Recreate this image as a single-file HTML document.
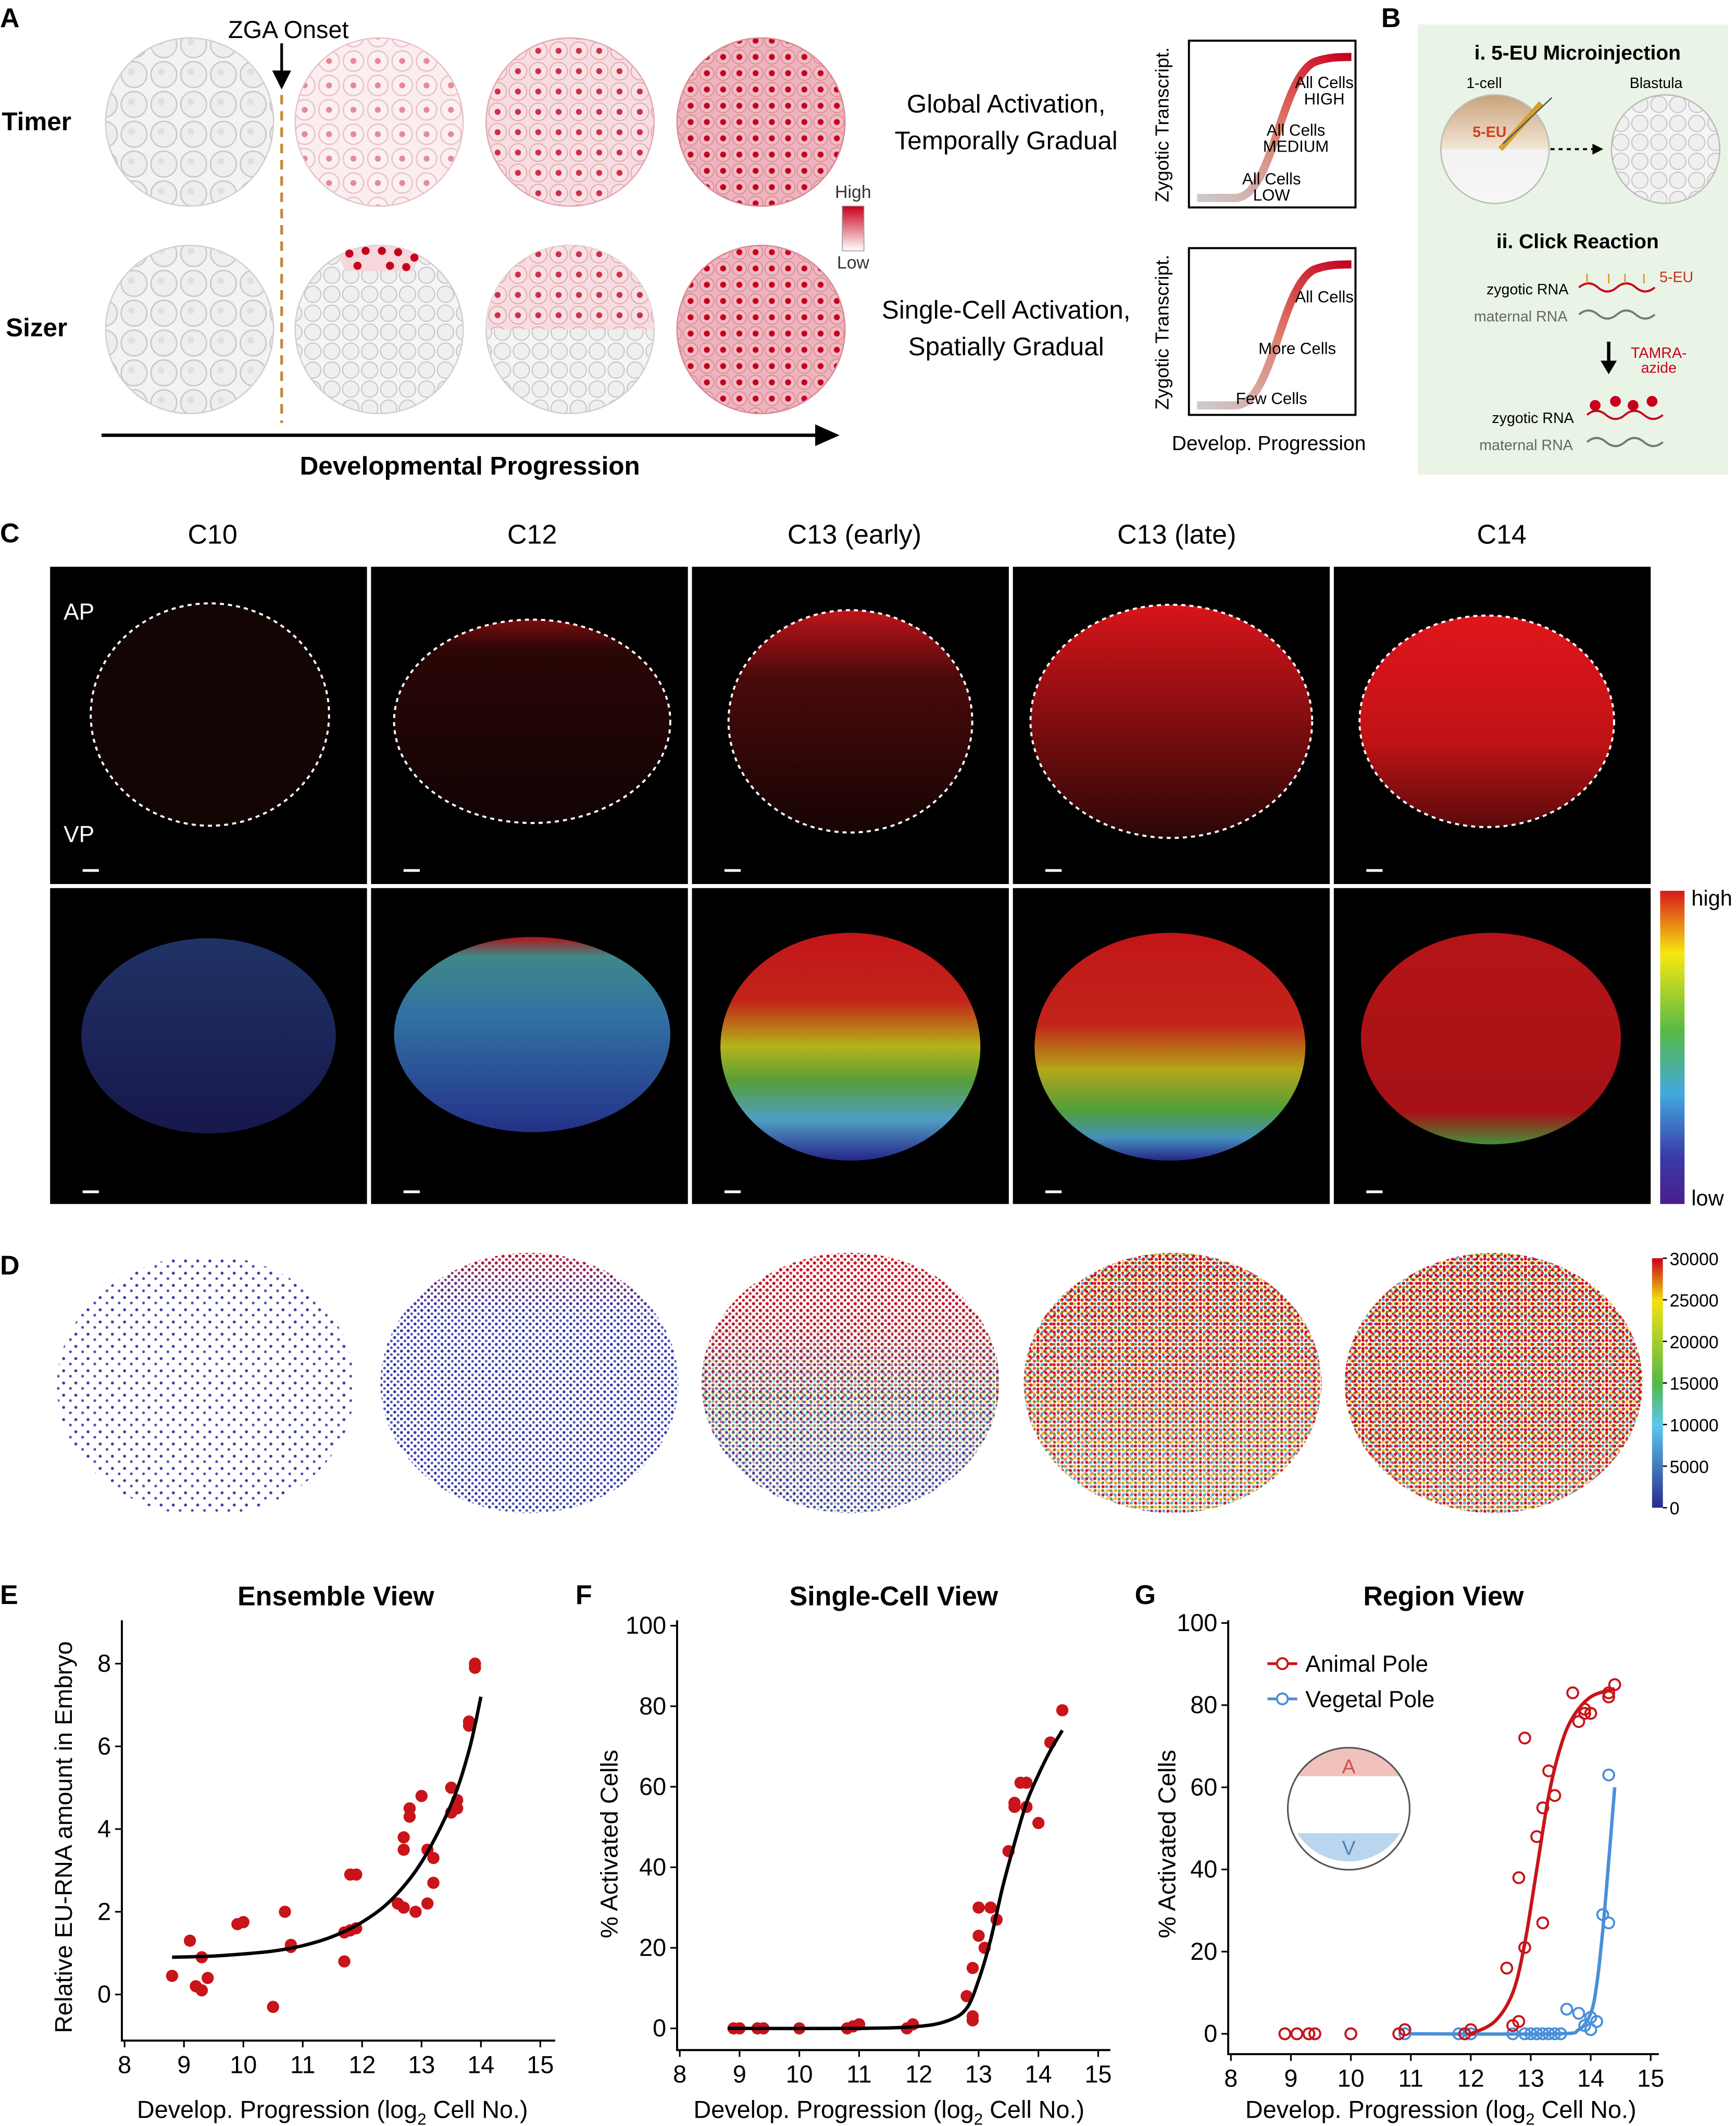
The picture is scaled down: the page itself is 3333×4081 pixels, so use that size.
<!DOCTYPE html>
<html><head><meta charset="utf-8">
<style>
html,body{margin:0;padding:0;background:#fff}
svg{display:block}
text{font-family:"Liberation Sans",sans-serif}
</style></head>
<body>
<svg id="fig" width="3333" height="4081" viewBox="0 0 1282 1568" preserveAspectRatio="none" xmlns="http://www.w3.org/2000/svg">
<defs>
  <pattern id="cellsGray" width="22" height="22" patternUnits="userSpaceOnUse">
    <rect width="22" height="22" fill="#f3f3f3"/>
    <circle cx="11" cy="11" r="9.5" fill="#eeeeee" stroke="#c8c8c8" stroke-width="1"/>
    <circle cx="9" cy="9" r="2.5" fill="#e0e0e0"/>
  </pattern>
  <pattern id="cellsPinkLight" width="18" height="18" patternUnits="userSpaceOnUse">
    <rect width="18" height="18" fill="#fbeef0"/>
    <circle cx="9" cy="9" r="7.5" fill="#fbf0f2" stroke="#e9c3c8" stroke-width="1"/>
    <circle cx="9" cy="9" r="2.2" fill="#e48a98"/>
  </pattern>
  <pattern id="cellsPinkMed" width="15" height="15" patternUnits="userSpaceOnUse">
    <rect width="15" height="15" fill="#f7dde1"/>
    <circle cx="7.5" cy="7.5" r="6.5" fill="#f8e1e5" stroke="#e2a9b1" stroke-width="0.8"/>
    <circle cx="7.5" cy="7.5" r="2.2" fill="#cf3048"/>
  </pattern>
  <pattern id="cellsPinkHigh" width="12" height="12" patternUnits="userSpaceOnUse">
    <rect width="12" height="12" fill="#eeb3bc"/>
    <circle cx="6" cy="6" r="5.2" fill="#f0bcc4" stroke="#d98a96" stroke-width="0.7"/>
    <circle cx="6" cy="6" r="2.2" fill="#c8001e"/>
  </pattern>
  <pattern id="cellsSizer" width="14" height="14" patternUnits="userSpaceOnUse">
    <rect width="14" height="14" fill="#f5f5f5"/>
    <circle cx="7" cy="7" r="6" fill="#efefef" stroke="#c5c5c5" stroke-width="0.8"/>
  </pattern>
  <linearGradient id="hiLo" x1="0" y1="0" x2="0" y2="1">
    <stop offset="0" stop-color="#c8001e"/><stop offset="1" stop-color="#ffffff"/>
  </linearGradient>
  <linearGradient id="curveGrad" x1="0" y1="1" x2="1" y2="0">
    <stop offset="0" stop-color="#cccccc"/><stop offset="0.5" stop-color="#e08070"/><stop offset="1" stop-color="#c8001e"/>
  </linearGradient>
  <linearGradient id="eu" x1="0" y1="0" x2="0" y2="1">
    <stop offset="0" stop-color="#c8a27a"/><stop offset="0.5" stop-color="#f3e6d6"/><stop offset="0.5" stop-color="#f2f2f2"/><stop offset="1" stop-color="#f7f7f7"/>
  </linearGradient>
  <linearGradient id="cbar" x1="0" y1="0" x2="0" y2="1">
    <stop offset="0" stop-color="#d7191c"/><stop offset="0.2" stop-color="#f6e80f"/><stop offset="0.45" stop-color="#56b947"/><stop offset="0.65" stop-color="#41a8e0"/><stop offset="0.85" stop-color="#3a3aa8"/><stop offset="1" stop-color="#4b1e8c"/>
  </linearGradient>
  <linearGradient id="cbarD" x1="0" y1="0" x2="0" y2="1">
    <stop offset="0" stop-color="#c8001e"/><stop offset="0.17" stop-color="#f3e20f"/><stop offset="0.5" stop-color="#54b848"/><stop offset="0.67" stop-color="#5cc7ec"/><stop offset="1" stop-color="#2a2a8c"/>
  </linearGradient>
  <!-- C row1 red gradients -->
  <linearGradient id="r12" x1="0" y1="0" x2="0" y2="1"><stop offset="0" stop-color="#7a0d10"/><stop offset="0.15" stop-color="#2a0606"/><stop offset="1" stop-color="#120404"/></linearGradient>
  <linearGradient id="r13e" x1="0" y1="0" x2="0" y2="1"><stop offset="0" stop-color="#c0141a"/><stop offset="0.3" stop-color="#4a0a0a"/><stop offset="1" stop-color="#160404"/></linearGradient>
  <linearGradient id="r13l" x1="0" y1="0" x2="0" y2="1"><stop offset="0" stop-color="#d8151b"/><stop offset="0.45" stop-color="#8a0e10"/><stop offset="1" stop-color="#2a0606"/></linearGradient>
  <linearGradient id="r14" x1="0" y1="0" x2="0" y2="1"><stop offset="0" stop-color="#e0161c"/><stop offset="0.6" stop-color="#c01216"/><stop offset="1" stop-color="#5a0a0a"/></linearGradient>
  <!-- C row2 rainbow gradients -->
  <linearGradient id="g10" x1="0" y1="0" x2="0" y2="1"><stop offset="0" stop-color="#3a5cb8"/><stop offset="1" stop-color="#2a2a8a"/></linearGradient>
  <linearGradient id="g12" x1="0" y1="0" x2="0" y2="1"><stop offset="0" stop-color="#d0181c"/><stop offset="0.1" stop-color="#48a0a0"/><stop offset="0.4" stop-color="#3a86c0"/><stop offset="1" stop-color="#2a3aa0"/></linearGradient>
  <linearGradient id="g13e" x1="0" y1="0" x2="0" y2="1"><stop offset="0" stop-color="#d8181c"/><stop offset="0.3" stop-color="#d8281c"/><stop offset="0.5" stop-color="#c8c81c"/><stop offset="0.65" stop-color="#60b040"/><stop offset="0.82" stop-color="#58b0d8"/><stop offset="1" stop-color="#2a2a98"/></linearGradient>
  <linearGradient id="g13l" x1="0" y1="0" x2="0" y2="1"><stop offset="0" stop-color="#d8181c"/><stop offset="0.4" stop-color="#d8281c"/><stop offset="0.6" stop-color="#c8b81c"/><stop offset="0.78" stop-color="#58b040"/><stop offset="0.9" stop-color="#4aa0d0"/><stop offset="1" stop-color="#2a2a98"/></linearGradient>
  <linearGradient id="g14" x1="0" y1="0" x2="0" y2="1"><stop offset="0" stop-color="#c8161a"/><stop offset="0.85" stop-color="#b81418"/><stop offset="1" stop-color="#4aa040"/></linearGradient>
  <!-- D dot patterns -->
  <pattern id="dBlueSparse" width="9" height="9" patternUnits="userSpaceOnUse"><circle cx="2" cy="3" r="1.1" fill="#3a3aa8"/><circle cx="7" cy="7" r="1" fill="#4a4ab8"/></pattern>
  <pattern id="dBlue" width="5" height="5" patternUnits="userSpaceOnUse"><circle cx="1.5" cy="1.5" r="1.1" fill="#3636a6"/><circle cx="4" cy="4" r="1" fill="#4a58c0"/></pattern>
  <pattern id="dRed" width="5" height="5" patternUnits="userSpaceOnUse"><circle cx="1.5" cy="1.5" r="1.2" fill="#d0101c"/><circle cx="4" cy="4" r="1.1" fill="#e02020"/></pattern>
  <pattern id="dMix" width="6" height="6" patternUnits="userSpaceOnUse"><circle cx="1.5" cy="1.5" r="1.1" fill="#e8d020"/><circle cx="4.5" cy="1.5" r="1.1" fill="#50b048"/><circle cx="1.5" cy="4.5" r="1.1" fill="#4ab8e0"/><circle cx="4.5" cy="4.5" r="1.1" fill="#d0101c"/></pattern>
  <linearGradient id="mTop1" x1="0" y1="0" x2="0" y2="1"><stop offset="0" stop-color="#fff"/><stop offset="0.12" stop-color="#fff" stop-opacity="0.3"/><stop offset="0.25" stop-color="#fff" stop-opacity="0"/></linearGradient>
  <linearGradient id="mTop2" x1="0" y1="0" x2="0" y2="1"><stop offset="0" stop-color="#fff"/><stop offset="0.3" stop-color="#fff" stop-opacity="0.8"/><stop offset="0.6" stop-color="#fff" stop-opacity="0.1"/><stop offset="1" stop-color="#fff" stop-opacity="0"/></linearGradient>
  <linearGradient id="mTop3" x1="0" y1="0" x2="0" y2="1"><stop offset="0" stop-color="#fff"/><stop offset="0.5" stop-color="#fff" stop-opacity="0.8"/><stop offset="1" stop-color="#fff" stop-opacity="0.25"/></linearGradient>
  <linearGradient id="mTop4" x1="0" y1="0" x2="0" y2="1"><stop offset="0" stop-color="#fff"/><stop offset="0.7" stop-color="#fff" stop-opacity="0.9"/><stop offset="1" stop-color="#fff" stop-opacity="0.5"/></linearGradient>
  <linearGradient id="mMid" x1="0" y1="0" x2="0" y2="1"><stop offset="0.2" stop-color="#fff" stop-opacity="0"/><stop offset="0.55" stop-color="#fff" stop-opacity="0.7"/><stop offset="0.9" stop-color="#fff" stop-opacity="0.2"/></linearGradient>
  <mask id="mask1"><rect x="0" y="920" width="1282" height="200" fill="url(#mTop1)"/></mask>
  <mask id="mask2"><rect x="0" y="920" width="1282" height="200" fill="url(#mTop2)"/></mask>
  <mask id="mask3"><rect x="0" y="920" width="1282" height="200" fill="url(#mTop3)"/></mask>
  <mask id="mask4"><rect x="0" y="920" width="1282" height="200" fill="url(#mTop4)"/></mask>
  <mask id="maskMid"><rect x="0" y="920" width="1282" height="200" fill="url(#mMid)"/></mask>
  <clipPath id="cd1"><ellipse cx="152" cy="1022" rx="110" ry="96"/></clipPath>
  <clipPath id="cd2"><ellipse cx="391" cy="1020" rx="110" ry="96"/></clipPath>
  <clipPath id="cd3"><ellipse cx="628" cy="1020" rx="110" ry="96"/></clipPath>
  <clipPath id="cd4"><ellipse cx="866" cy="1020" rx="110" ry="96"/></clipPath>
  <clipPath id="cd5"><ellipse cx="1103" cy="1020" rx="110" ry="96"/></clipPath>
</defs>

<!-- ============ PANEL A ============ -->
<g>
  <text x="0" y="20" font-size="20" font-weight="bold">A</text>
  <text x="213" y="28" font-size="18" text-anchor="middle">ZGA Onset</text>
  <line x1="208" y1="32" x2="208" y2="58" stroke="#000" stroke-width="2"/>
  <polygon points="201,52 215,52 208,66" fill="#000"/>
  <line x1="208" y1="70" x2="208" y2="312" stroke="#c8843a" stroke-width="2" stroke-dasharray="7,5"/>
  <text x="27" y="96" font-size="19" font-weight="bold" text-anchor="middle">Timer</text>
  <text x="27" y="248" font-size="19" font-weight="bold" text-anchor="middle">Sizer</text>
  <g>
    <circle cx="140" cy="90" r="62" fill="url(#cellsGray)" stroke="#d0d0d0"/>
    <circle cx="280" cy="90" r="62" fill="url(#cellsPinkLight)" stroke="#e9c3c8"/>
    <circle cx="421" cy="90" r="62" fill="url(#cellsPinkMed)" stroke="#e2a9b1"/>
    <circle cx="562" cy="90" r="62" fill="url(#cellsPinkHigh)" stroke="#d98a96"/>
  </g>
  <g>
    <circle cx="140" cy="243" r="62" fill="url(#cellsGray)" stroke="#d0d0d0"/>
    <circle cx="280" cy="243" r="62" fill="url(#cellsSizer)" stroke="#d0d0d0"/>
    <path d="M250,189 A62,62 0 0 1 310,189 L305,200 L255,200 Z" fill="#f6d8dc"/>
    <g fill="#c8001e"><circle cx="258" cy="187" r="3"/><circle cx="270" cy="185" r="3"/><circle cx="282" cy="185" r="3"/><circle cx="294" cy="186" r="3"/><circle cx="306" cy="190" r="3"/><circle cx="264" cy="196" r="3"/><circle cx="288" cy="196" r="3"/><circle cx="300" cy="197" r="3"/></g>
    <circle cx="421" cy="243" r="62" fill="url(#cellsSizer)" stroke="#d0d0d0"/>
    <path d="M359,243 A62,62 0 0 1 483,243 Z" fill="url(#cellsPinkMed)"/>
    <circle cx="562" cy="243" r="62" fill="url(#cellsPinkHigh)" stroke="#d98a96"/>
  </g>
  <line x1="75" y1="321" x2="605" y2="321" stroke="#000" stroke-width="2.5"/>
  <polygon points="602,313 620,321 602,329" fill="#000"/>
  <text x="347" y="350" font-size="19" font-weight="bold" text-anchor="middle">Developmental Progression</text>
  <rect x="622" y="152" width="16" height="33" fill="url(#hiLo)" stroke="#999" stroke-width="0.6"/>
  <text x="630" y="146" font-size="13" text-anchor="middle" fill="#333">High</text>
  <text x="630" y="198" font-size="13" text-anchor="middle" fill="#333">Low</text>
  <text x="743" y="83" font-size="19" text-anchor="middle">Global Activation,</text>
  <text x="743" y="110" font-size="19" text-anchor="middle">Temporally Gradual</text>
  <text x="743" y="235" font-size="19" text-anchor="middle">Single-Cell Activation,</text>
  <text x="743" y="262" font-size="19" text-anchor="middle">Spatially Gradual</text>
  <g>
    <rect x="878" y="30" width="123" height="123" fill="#fff" stroke="#000" stroke-width="1.5"/>
    <path d="M884,146 L912,146 C940,146 945,60 970,46 C980,42 990,42 998,42" fill="none" stroke="url(#curveGrad)" stroke-width="6"/>
    <text x="978" y="65" font-size="12" text-anchor="middle">All Cells</text>
    <text x="978" y="77" font-size="12" text-anchor="middle">HIGH</text>
    <text x="957" y="100" font-size="12" text-anchor="middle">All Cells</text>
    <text x="957" y="112" font-size="12" text-anchor="middle">MEDIUM</text>
    <text x="939" y="136" font-size="12" text-anchor="middle">All Cells</text>
    <text x="939" y="148" font-size="12" text-anchor="middle">LOW</text>
    <text transform="translate(863,92) rotate(-90)" font-size="14" text-anchor="middle">Zygotic Transcript.</text>
  </g>
  <g>
    <rect x="878" y="183" width="123" height="123" fill="#fff" stroke="#000" stroke-width="1.5"/>
    <path d="M884,299 L912,299 C940,299 945,213 970,199 C980,195 990,195 998,195" fill="none" stroke="url(#curveGrad)" stroke-width="6"/>
    <text x="978" y="223" font-size="12" text-anchor="middle">All Cells</text>
    <text x="958" y="261" font-size="12" text-anchor="middle">More Cells</text>
    <text x="939" y="298" font-size="12" text-anchor="middle">Few Cells</text>
    <text transform="translate(863,245) rotate(-90)" font-size="14" text-anchor="middle">Zygotic Transcript.</text>
  </g>
  <text x="937" y="332" font-size="15" text-anchor="middle">Develop. Progression</text>
</g>

<!-- ============ PANEL B ============ -->
<g>
  <text x="1020" y="20" font-size="20" font-weight="bold">B</text>
  <rect x="1047" y="18" width="229" height="332" fill="#e9f4e6"/>
  <text x="1165" y="44" font-size="15" font-weight="bold" text-anchor="middle">i. 5-EU Microinjection</text>
  <text x="1096" y="65" font-size="11" text-anchor="middle">1-cell</text>
  <text x="1223" y="65" font-size="11" text-anchor="middle">Blastula</text>
  <circle cx="1104" cy="110" r="40" fill="url(#eu)" stroke="#bbb"/>
  <text x="1100" y="101" font-size="11" font-weight="bold" fill="#d04020" text-anchor="middle">5-EU</text>
  <line x1="1108" y1="110" x2="1138" y2="76" stroke="#d4a030" stroke-width="4"/>
  <line x1="1110" y1="106" x2="1146" y2="72" stroke="#555" stroke-width="1"/>
  <line x1="1145" y1="110" x2="1178" y2="110" stroke="#000" stroke-width="1.5" stroke-dasharray="3,3"/>
  <polygon points="1176,106 1184,110 1176,114" fill="#000"/>
  <circle cx="1230" cy="110" r="40" fill="url(#cellsSizer)" stroke="#bbb"/>
  <text x="1165" y="183" font-size="15" font-weight="bold" text-anchor="middle">ii. Click Reaction</text>
  <text x="1128" y="217" font-size="11" text-anchor="middle">zygotic RNA</text>
  <text x="1123" y="237" font-size="11" text-anchor="middle" fill="#666">maternal RNA</text>
  <path d="M1166,212 q7,-6 14,0 t14,0 t14,0 t14,0" fill="none" stroke="#c8001e" stroke-width="1.5"/>
  <g stroke="#e09020" stroke-width="1"><line x1="1172" y1="202" x2="1172" y2="209"/><line x1="1188" y1="202" x2="1188" y2="209"/><line x1="1200" y1="202" x2="1200" y2="209"/><line x1="1214" y1="202" x2="1214" y2="209"/></g>
  <text x="1238" y="208" font-size="11" fill="#c03020" text-anchor="middle">5-EU</text>
  <path d="M1166,232 q7,-6 14,0 t14,0 t14,0 t14,0" fill="none" stroke="#777" stroke-width="1.5"/>
  <line x1="1188" y1="252" x2="1188" y2="268" stroke="#000" stroke-width="2.5"/>
  <polygon points="1182,266 1194,266 1188,276" fill="#000"/>
  <text x="1225" y="264" font-size="11" fill="#c8001e" text-anchor="middle">TAMRA-</text>
  <text x="1225" y="275" font-size="11" fill="#c8001e" text-anchor="middle">azide</text>
  <text x="1132" y="312" font-size="11" text-anchor="middle">zygotic RNA</text>
  <path d="M1172,306 q7,-6 14,0 t14,0 t14,0 t14,0" fill="none" stroke="#c8001e" stroke-width="1.5"/>
  <g fill="#c8001e"><circle cx="1178" cy="299" r="4"/><circle cx="1193" cy="296" r="4"/><circle cx="1206" cy="299" r="4"/><circle cx="1220" cy="296" r="4"/></g>
  <text x="1127" y="332" font-size="11" text-anchor="middle" fill="#666">maternal RNA</text>
  <path d="M1172,326 q7,-6 14,0 t14,0 t14,0 t14,0" fill="none" stroke="#777" stroke-width="1.5"/>
</g>

<!-- ============ PANEL C ============ -->
<g>
  <text x="0" y="400" font-size="20" font-weight="bold">C</text>
  <g font-size="20" text-anchor="middle">
    <text x="157" y="401">C10</text>
    <text x="393" y="401">C12</text>
    <text x="631" y="401">C13 (early)</text>
    <text x="869" y="401">C13 (late)</text>
    <text x="1109" y="401">C14</text>
  </g>
  <g>
    <rect x="37" y="418" width="234" height="234" fill="#000"/>
    <rect x="274" y="418" width="234" height="234" fill="#000"/>
    <rect x="511" y="418" width="234" height="234" fill="#000"/>
    <rect x="748" y="418" width="234" height="234" fill="#000"/>
    <rect x="985" y="418" width="234" height="234" fill="#000"/>
    <ellipse cx="155" cy="527" rx="88" ry="82" fill="#140505" stroke="#fff" stroke-width="1.5" stroke-dasharray="3,3"/>
    <ellipse cx="393" cy="532" rx="102" ry="75" fill="url(#r12)" stroke="#fff" stroke-width="1.5" stroke-dasharray="3,3"/>
    <ellipse cx="628" cy="532" rx="90" ry="82" fill="url(#r13e)" stroke="#fff" stroke-width="1.5" stroke-dasharray="3,3"/>
    <ellipse cx="865" cy="532" rx="104" ry="86" fill="url(#r13l)" stroke="#fff" stroke-width="1.5" stroke-dasharray="3,3"/>
    <ellipse cx="1098" cy="532" rx="94" ry="78" fill="url(#r14)" stroke="#fff" stroke-width="1.5" stroke-dasharray="3,3"/>
    <text x="47" y="457" font-size="17" fill="#fff">AP</text>
    <text x="47" y="621" font-size="17" fill="#fff">VP</text>
    <g stroke="#fff" stroke-width="2"><line x1="61" y1="642" x2="73" y2="642"/><line x1="298" y1="642" x2="310" y2="642"/><line x1="535" y1="642" x2="547" y2="642"/><line x1="772" y1="642" x2="784" y2="642"/><line x1="1009" y1="642" x2="1021" y2="642"/></g>
  </g>
  <g>
    <rect x="37" y="655" width="234" height="233" fill="#000"/>
    <rect x="274" y="655" width="234" height="233" fill="#000"/>
    <rect x="511" y="655" width="234" height="233" fill="#000"/>
    <rect x="748" y="655" width="234" height="233" fill="#000"/>
    <rect x="985" y="655" width="234" height="233" fill="#000"/>
    <ellipse cx="154" cy="764" rx="94" ry="72" fill="url(#g10)" opacity="0.55"/>
    <ellipse cx="393" cy="763" rx="102" ry="72" fill="url(#g12)" opacity="0.85"/>
    <ellipse cx="628" cy="772" rx="96" ry="84" fill="url(#g13e)" opacity="0.9"/>
    <ellipse cx="864" cy="772" rx="100" ry="84" fill="url(#g13l)" opacity="0.9"/>
    <ellipse cx="1101" cy="766" rx="96" ry="78" fill="url(#g14)" opacity="0.9"/>
    <g stroke="#fff" stroke-width="2"><line x1="61" y1="879" x2="73" y2="879"/><line x1="298" y1="879" x2="310" y2="879"/><line x1="535" y1="879" x2="547" y2="879"/><line x1="772" y1="879" x2="784" y2="879"/><line x1="1009" y1="879" x2="1021" y2="879"/></g>
  </g>
  <rect x="1226" y="657" width="18" height="231" fill="url(#cbar)"/>
  <text x="1249" y="668" font-size="16">high</text>
  <text x="1249" y="889" font-size="16">low</text>
</g>

<!-- ============ PANEL D ============ -->
<g>
  <text x="0" y="940" font-size="20" font-weight="bold">D</text>
  <g clip-path="url(#cd1)"><rect x="30" y="920" width="250" height="200" fill="url(#dBlueSparse)"/></g>
  <g clip-path="url(#cd2)"><rect x="270" y="920" width="250" height="200" fill="url(#dBlue)"/><rect x="270" y="920" width="250" height="200" fill="url(#dRed)" mask="url(#mask1)"/></g>
  <g clip-path="url(#cd3)"><rect x="505" y="920" width="250" height="200" fill="url(#dBlue)"/><rect x="505" y="920" width="250" height="200" fill="url(#dMix)" mask="url(#maskMid)"/><rect x="505" y="920" width="250" height="200" fill="url(#dRed)" mask="url(#mask2)"/></g>
  <g clip-path="url(#cd4)"><rect x="745" y="920" width="250" height="200" fill="url(#dMix)"/><rect x="745" y="920" width="250" height="200" fill="url(#dRed)" mask="url(#mask3)"/></g>
  <g clip-path="url(#cd5)"><rect x="980" y="920" width="250" height="200" fill="url(#dMix)"/><rect x="980" y="920" width="250" height="200" fill="url(#dRed)" mask="url(#mask4)"/></g>
  <rect x="1220" y="928" width="8" height="184" fill="url(#cbarD)"/>
  <g id="dTicks" font-size="13"></g>
</g>

<!-- ============ PANELS E F G ============ -->
<g id="chartE"></g>
<g id="chartF"></g>
<g id="chartG"></g>
</svg>

<script>
// ---- Panel D colorbar ticks ----
const dTickLabels = ["30000","25000","20000","15000","10000","5000","0"];
const dTickValues = [30000,25000,20000,15000,10000,5000,0];

// ---- Panel E data ----
const eX = [8.8,9.1,9.3,9.2,9.3,9.4,9.9,10.0,10.5,10.7,10.8,10.8,11.7,11.7,11.8,11.8,11.9,11.9,12.6,12.7,12.7,12.7,12.8,12.8,12.9,13.0,13.1,13.1,13.2,13.2,13.5,13.6,13.6,13.5,13.8,13.8,13.9,13.9];
const eY = [0.45,1.3,0.9,0.2,0.1,0.4,1.7,1.75,-0.3,2.0,1.2,1.15,1.5,0.8,1.55,2.9,2.9,1.6,2.2,2.1,3.8,3.5,4.3,4.5,2.0,4.8,2.2,3.5,2.7,3.3,4.4,4.5,4.7,5.0,6.6,6.5,7.9,8.0];
const eFitX = [8.8,9.5,10,10.5,11,11.5,12,12.5,13,13.5,13.8,14];
const eFitY = [0.9,0.93,0.98,1.05,1.18,1.4,1.75,2.3,3.2,4.6,5.9,7.2];
const eXTicks = [8,9,10,11,12,13,14,15];
const eYTicks = [0,2,4,6,8];

// ---- Panel F data ----
const fX = [8.9,9.0,9.3,9.4,10.0,10.8,10.9,11.0,11.8,11.9,12.8,12.9,12.9,12.9,13.0,13.0,13.1,13.2,13.3,13.5,13.6,13.6,13.7,13.8,13.8,14.0,14.2,14.4];
const fY = [0,0,0,0,0,0,0.5,1,0,1,8,3,2,15,30,23,20,30,27,44,56,55,61,61,55,51,71,79];
const fFitX = [8.8,11,12,12.5,12.8,13,13.2,13.4,13.6,13.8,14,14.2,14.4];
const fFitY = [0,0,0.5,2,5,12,22,35,46,56,63,69,74];
const fXTicks = [8,9,10,11,12,13,14,15];
const fYTicks = [0,20,40,60,80,100];

// ---- Panel G data ----
const gAnimalX = [8.9,9.1,9.3,9.4,10.0,10.8,10.9,11.9,12.0,12.6,12.7,12.8,12.8,12.9,12.9,13.1,13.2,13.2,13.3,13.4,13.7,13.8,13.9,13.9,14.0,14.3,14.4,14.3];
const gAnimalY = [0,0,0,0,0,0,1,0,1,16,2,3,38,21,72,48,27,55,64,58,83,76,78,79,78,83,85,82];
const gVegetalX = [8.9,9.1,9.3,9.4,10.0,10.8,10.9,11.8,11.9,12.0,12.7,12.9,13.0,13.1,13.2,13.3,13.4,13.5,13.6,13.8,13.9,14.0,14.0,14.1,14.2,14.3,14.3];
const gVegetalY = [0,0,0,0,0,0,0,0,0,0,0,0,0,0,0,0,0,0,6,5,2,4,1,3,29,27,63];
const gAnimalFitX = [12,12.4,12.7,12.9,13.1,13.3,13.5,13.7,14,14.4];
const gAnimalFitY = [0,3,10,22,40,58,70,77,82,84];
const gVegetalFitX = [11,13.4,13.8,14,14.1,14.2,14.3,14.4];
const gVegetalFitY = [0,0,1,5,12,25,42,60];
const gXTicks = [8,9,10,11,12,13,14,15];
const gYTicks = [0,20,40,60,80,100];

const NS = "http://www.w3.org/2000/svg";
function mk(parent, tag, attrs, txt){
  const el = document.createElementNS(NS, tag);
  for (const k in attrs) el.setAttribute(k, attrs[k]);
  if (txt !== undefined) el.textContent = txt;
  parent.appendChild(el);
  return el;
}
function linScale(d0,d1,r0,r1){ return v => r0 + (v-d0)*(r1-r0)/(d1-d0); }
function smoothPath(xs, ys, sx, sy){
  const p = xs.map((x,i)=>[sx(x), sy(ys[i])]);
  let d = "M"+p[0][0]+","+p[0][1];
  for (let i=0;i<p.length-1;i++){
    const p0=p[Math.max(0,i-1)], p1=p[i], p2=p[i+1], p3=p[Math.min(p.length-1,i+2)];
    const c1=[p1[0]+(p2[0]-p0[0])/6, p1[1]+(p2[1]-p0[1])/6];
    const c2=[p2[0]-(p3[0]-p1[0])/6, p2[1]-(p3[1]-p1[1])/6];
    d += " C"+c1[0]+","+c1[1]+" "+c2[0]+","+c2[1]+" "+p2[0]+","+p2[1];
  }
  return d;
}

// D ticks
(function(){
  const g = document.getElementById('dTicks');
  const sy = linScale(0,30000,1112,928);
  dTickValues.forEach((v,i)=>{
    const t = mk(g,'text',{x:1233, y:sy(v)+5});
    t.textContent = dTickLabels[i];
    
    
    mk(g,'line',{x1:1228,x2:1231,y1:sy(v),y2:sy(v),stroke:'#000','stroke-width':1});
  });
})();

function axes(g, o){
  const sx = linScale(8,15,o.x8,o.x15);
  const sy = linScale(o.y0v,o.y1v,o.y0,o.y1);
  const ax = mk(g,'path',{d:`M${o.left},${o.top} L${o.left},${o.bottom} L${o.right},${o.bottom}`,fill:'none',stroke:'#000','stroke-width':1.5});
  
  
  o.xTicks.forEach(v=>{
    mk(g,'line',{x1:sx(v),x2:sx(v),y1:o.bottom,y2:o.bottom+5,stroke:'#000','stroke-width':1.2});
    const t = mk(g,'text',{x:sx(v), y:o.bottom+24,'font-size':18,'text-anchor':'middle'}, String(v));
    
    
  });
  o.yTicks.forEach(v=>{
    mk(g,'line',{x1:o.left-5,x2:o.left,y1:sy(v),y2:sy(v),stroke:'#000','stroke-width':1.2});
    const t = mk(g,'text',{x:o.left-8, y:sy(v)+6,'font-size':18,'text-anchor':'end'}, String(v));
    
    
  });
  const title = mk(g,'text',{x:o.titleX,y:1184,'font-size':20,'font-weight':'bold','text-anchor':'middle'}, o.title);
  
  
  const lab = mk(g,'text',{x:o.panelX,y:1183,'font-size':20,'font-weight':'bold'}, o.panel);
  
  
  const xl = mk(g,'text',{x:(o.x8+o.x15)/2,y:1562,'font-size':18,'text-anchor':'middle'});
  xl.innerHTML = 'Develop. Progression (log<tspan font-size="12" dy="5">2</tspan><tspan dy="-5"> Cell No.)</tspan>';
  
  
  const yl = mk(g,'text',{transform:`translate(${o.yLabX},${o.yLabY}) rotate(-90)`,'font-size':18,'text-anchor':'middle'}, o.yLabel);
  
  
  return {sx, sy};
}

// E
(function(){
  const g = document.getElementById('chartE');
  const {sx, sy} = axes(g,{x8:92,x15:399,y0v:0,y1v:8,y0:1471,y1:1227,left:90,right:410,top:1195,bottom:1505,
    xTicks:eXTicks,yTicks:eYTicks,title:'Ensemble View',titleX:248,panel:'E',panelX:0,
    yLabel:'Relative EU-RNA amount in Embryo',yLabX:53,yLabY:1355});
  eX.forEach((x,i)=>{
    const c = mk(g,'circle',{cx:sx(x),cy:sy(eY[i]),r:4.5,fill:'#c8141a'});
    
    
  });
  const p = mk(g,'path',{d:smoothPath(eFitX,eFitY,sx,sy),fill:'none',stroke:'#000','stroke-width':2.5});
  
  
})();

// F
(function(){
  const g = document.getElementById('chartF');
  const {sx, sy} = axes(g,{x8:502,x15:811,y0v:0,y1v:100,y0:1496,y1:1199,left:500,right:820,top:1195,bottom:1512,
    xTicks:fXTicks,yTicks:fYTicks,title:'Single-Cell View',titleX:660,panel:'F',panelX:425,
    yLabel:'% Activated Cells',yLabX:456,yLabY:1360});
  fX.forEach((x,i)=>{
    const c = mk(g,'circle',{cx:sx(x),cy:sy(fY[i]),r:4.5,fill:'#c8141a'});
    
    
  });
  const p = mk(g,'path',{d:smoothPath(fFitX,fFitY,sx,sy),fill:'none',stroke:'#000','stroke-width':2.5});
  
  
})();

// G
(function(){
  const g = document.getElementById('chartG');
  const {sx, sy} = axes(g,{x8:909,x15:1219,y0v:0,y1v:100,y0:1500,y1:1197,left:907,right:1225,top:1195,bottom:1515,
    xTicks:gXTicks,yTicks:gYTicks,title:'Region View',titleX:1066,panel:'G',panelX:838,
    yLabel:'% Activated Cells',yLabX:868,yLabY:1360});
  const pv = mk(g,'path',{d:smoothPath(gVegetalFitX,gVegetalFitY,sx,sy),fill:'none',stroke:'#4a8fd8','stroke-width':2.5});
  
  
  const pa = mk(g,'path',{d:smoothPath(gAnimalFitX,gAnimalFitY,sx,sy),fill:'none',stroke:'#c8141a','stroke-width':2.5});
  
  
  gVegetalX.forEach((x,i)=>{
    const c = mk(g,'circle',{cx:sx(x),cy:sy(gVegetalY[i]),r:4,fill:'none',stroke:'#4a8fd8','stroke-width':1.5});
    
    
  });
  gAnimalX.forEach((x,i)=>{
    const c = mk(g,'circle',{cx:sx(x),cy:sy(gAnimalY[i]),r:4,fill:'none',stroke:'#c8141a','stroke-width':1.5});
    
    
  });
  // legend
  const lg = mk(g,'g',{});
  
  
  mk(lg,'line',{x1:936,x2:958,y1:1227,y2:1227,stroke:'#c8141a','stroke-width':2});
  mk(lg,'circle',{cx:947,cy:1227,r:4,fill:'#fff',stroke:'#c8141a','stroke-width':1.5});
  mk(lg,'text',{x:964,y:1233,'font-size':17},'Animal Pole');
  mk(lg,'line',{x1:936,x2:958,y1:1253,y2:1253,stroke:'#4a8fd8','stroke-width':2});
  mk(lg,'circle',{cx:947,cy:1253,r:4,fill:'#fff',stroke:'#4a8fd8','stroke-width':1.5});
  mk(lg,'text',{x:964,y:1259,'font-size':17},'Vegetal Pole');
  // inset
  const ins = mk(g,'g',{});
  
  
  mk(ins,'path',{d:'M958,1310 A45,45 0 0 1 1034,1310 Z',fill:'#f1c2bc'});
  mk(ins,'path',{d:'M958,1352 L1034,1352 A45,45 0 0 1 958,1352 Z',fill:'#b9d6ee'});
  mk(ins,'circle',{cx:996,cy:1334,r:45,fill:'none',stroke:'#555','stroke-width':1.2});
  mk(ins,'text',{x:996,y:1308,'font-size':15,fill:'#d05050','text-anchor':'middle'},'A');
  mk(ins,'text',{x:996,y:1368,'font-size':15,fill:'#5080c0','text-anchor':'middle'},'V');
})();
</script>
</body></html>
